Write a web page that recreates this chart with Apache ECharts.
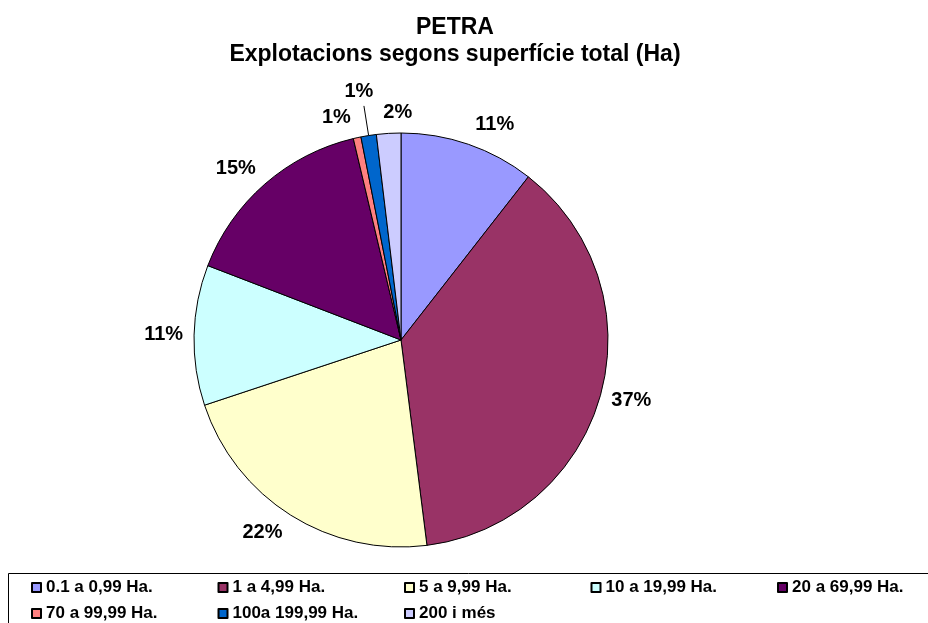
<!DOCTYPE html>
<html>
<head>
<meta charset="utf-8">
<title>PETRA</title>
<script src="https://cdn.jsdelivr.net/npm/echarts@6/dist/echarts.min.js"></script>
<style>
  html, body { margin: 0; padding: 0; background: #fff; }
  #chart { width: 928px; height: 623px; }
</style>
</head>
<body>
<div id="chart"></div>
<script>
// categories (legend names) and shares in %
const categories = ['0.1 a 0,99 Ha.', '1 a 4,99 Ha.', '5 a 9,99 Ha.', '10 a 19,99 Ha.', '20 a 69,99 Ha.', '70 a 99,99 Ha.', '100a 199,99 Ha.', '200 i més']
const values = [10.55, 37.45, 21.9, 10.95, 15.45, 0.6, 1.2, 1.9]
const colors = ['#9999FF', '#993366', '#FFFFCC', '#CCFFFF', '#660066', '#FF8080', '#0066CC', '#CCCCFF']
// legend columns, excel style grid (top row / bottom row)
const legendCols = [[0, 5], [1, 6], [2, 7], [3], [4]]

const font = 'Liberation Sans, Arial, sans-serif'

let chart = echarts.init(document.getElementById('chart'), null, { renderer: 'canvas' })

// mid angle of every slice (clockwise from 12 o'clock), used to nudge the labels
let total = values.reduce((a, b) => a + b, 0)
let acc = 0
let midAngles = values.map(v => {
  let m = (acc + v / 2) / total * Math.PI * 2
  acc += v
  return m
})

let data = categories.map((name, i) => {
  let item = { name: name, value: values[i], itemStyle: { color: colors[i] } }
  if (i === 6) {
    // the small blue slice gets a leader line, as in the original
    item.labelLine = { show: true, length: 30, length2: 0 }
  }
  return item
})

let legends = legendCols.map((col, c) => ({
  orient: 'vertical',
  left: 31 + c * 186.5,
  top: 579,
  padding: 0,
  itemGap: 9,
  itemWidth: 9,
  itemHeight: 9,
  icon: 'rect',
  selectedMode: false,
  data: col.map(i => categories[i]),
  textStyle: { fontFamily: font, fontWeight: 'bold', fontSize: 17, lineHeight: 17, color: '#000' }
}))

let option = {
  backgroundColor: '#fff',
  animation: false,
  title: {
    text: 'PETRA\nExplotacions segons superfície total (Ha)',
    left: 450,
    top: 9,
    textAlign: 'center',
    textStyle: { fontFamily: font, fontWeight: 'bold', fontSize: 23, lineHeight: 27, color: '#000' }
  },
  legend: legends,
  graphic: [
    {
      type: 'rect',
      shape: { x: 8.5, y: 573.5, width: 940, height: 80 },
      style: { fill: 'none', stroke: '#000', lineWidth: 1 },
      silent: true
    }
  ],
  series: [
    {
      type: 'pie',
      center: [401, 340],
      radius: 207,
      startAngle: 90,
      clockwise: true,
      avoidLabelOverlap: false,
      itemStyle: { borderColor: '#000', borderWidth: 1 },
      label: {
        show: true,
        position: 'outside',
        fontFamily: font,
        fontWeight: 'bold',
        fontSize: 20,
        color: '#000',
        formatter: p => Math.round(p.percent) + '%'
      },
      labelLine: { show: false, length: 6, length2: 0, lineStyle: { color: '#000', width: 1 } },
      // excel puts the label box fully outside: push top labels up, bottom ones down
      labelLayout: p => {
        let a = midAngles[p.dataIndex]
        let res = { dy: -Math.cos(a) * p.labelRect.height * 0.75 }
        if (p.dataIndex === 6) res.align = 'center'
        if (p.dataIndex === 7) res.align = 'left'
        return res
      },
      emphasis: { disabled: true },
      data: data
    }
  ]
}

chart.setOption(option)
</script>
</body>
</html>
